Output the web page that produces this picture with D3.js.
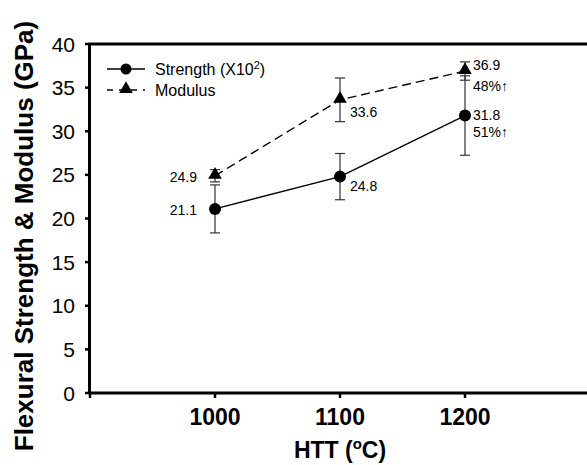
<!DOCTYPE html>
<html>
<head>
<meta charset="utf-8">
<script src="https://cdn.jsdelivr.net/npm/d3@7"></script>
<style>
body { margin: 0; background: #fff; }
text { font-family: "Liberation Sans", Arial, sans-serif; }
</style>
</head>
<body>
<div id="chart"></div>
<script>
var htt = [1000, 1100, 1200];
var strength = [21.1, 24.8, 31.8];
var strengthErr = [2.75, 2.65, 4.55];
var modulus = [24.9, 33.6, 36.9];
var modulusErr = [0.7, 2.5, 1.05];
var yTicks = [0, 5, 10, 15, 20, 25, 30, 35, 40];
var xTicks = [900, 1000, 1100, 1200, 1300];
var xLabels = [1000, 1100, 1200];

var w = 587, h = 465;
var svg = d3.select("#chart").append("svg").attr("width", w).attr("height", h);

var x = d3.scaleLinear().domain([900, 1300]).range([90, 590]);
var y = d3.scaleLinear().domain([0, 40]).range([393, 44]);

// frame
svg.append("line").attr("x1", 88.5).attr("x2", 600).attr("y1", 44).attr("y2", 44).attr("stroke", "#000").attr("stroke-width", 3);
svg.append("line").attr("x1", 88.5).attr("x2", 600).attr("y1", 393).attr("y2", 393).attr("stroke", "#000").attr("stroke-width", 3);
svg.append("line").attr("x1", 89.5).attr("x2", 89.5).attr("y1", 43).attr("y2", 394).attr("stroke", "#000").attr("stroke-width", 3);

// y ticks
svg.selectAll(".yt").data(yTicks).enter().append("line").attr("class", "yt")
    .attr("x1", 85).attr("x2", 89).attr("y1", function (d) { return y(d); }).attr("y2", function (d) { return y(d); })
    .attr("stroke", "#000").attr("stroke-width", 2.5);
svg.selectAll(".yl").data(yTicks).enter().append("text").attr("class", "yl")
    .attr("x", 75).attr("y", function (d) { return y(d) + 7.5; }).attr("text-anchor", "end")
    .style("font-size", "21px").text(function (d) { return d; });

// x ticks
svg.selectAll(".xt").data(xTicks).enter().append("line").attr("class", "xt")
    .attr("x1", function (d) { return x(d); }).attr("x2", function (d) { return x(d); })
    .attr("y1", 393).attr("y2", 398).attr("stroke", "#000").attr("stroke-width", 2.5);
svg.selectAll(".xl").data(xLabels).enter().append("text").attr("class", "xl")
    .attr("x", function (d) { return x(d); }).attr("y", 425).attr("text-anchor", "middle")
    .style("font-size", "23px").style("font-weight", "bold").text(function (d) { return d; });

// axis titles
var xt = svg.append("text").attr("x", 340).attr("y", 458).attr("text-anchor", "middle")
    .style("font-size", "23px").style("font-weight", "bold");
xt.append("tspan").text("HTT (");
xt.append("tspan").attr("dy", -9).style("font-size", "15px").text("o");
xt.append("tspan").attr("dy", 9).text("C)");

svg.append("text").attr("transform", "translate(33,236) rotate(-90)").attr("text-anchor", "middle")
    .style("font-size", "26px").style("font-weight", "bold").text("Flexural Strength & Modulus (GPa)");

// error bars
function errBars(vals, errs, cls) {
    var g = svg.append("g");
    g.selectAll("." + cls).data(vals).enter().append("line")
        .attr("x1", function (d, i) { return x(htt[i]); }).attr("x2", function (d, i) { return x(htt[i]); })
        .attr("y1", function (d, i) { return y(d - errs[i]); }).attr("y2", function (d, i) { return y(d + errs[i]); })
        .attr("stroke", "#333").attr("stroke-width", 1.2);
    [-1, 1].forEach(function (s) {
        g.selectAll(".c" + cls + s).data(vals).enter().append("line")
            .attr("x1", function (d, i) { return x(htt[i]) - 5; }).attr("x2", function (d, i) { return x(htt[i]) + 5; })
            .attr("y1", function (d, i) { return y(d + s * errs[i]); }).attr("y2", function (d, i) { return y(d + s * errs[i]); })
            .attr("stroke", "#333").attr("stroke-width", 1.2);
    });
}
errBars(strength, strengthErr, "se");
errBars(modulus, modulusErr, "me");

// lines
var line = d3.line().x(function (d, i) { return x(htt[i]); }).y(function (d) { return y(d); });
svg.append("path").datum(strength).attr("d", line).attr("fill", "none").attr("stroke", "#000").attr("stroke-width", 1.4);
svg.append("path").datum(modulus).attr("d", line).attr("fill", "none").attr("stroke", "#000").attr("stroke-width", 1.4).attr("stroke-dasharray", "9,5");

// markers
svg.selectAll(".dot").data(strength).enter().append("circle").attr("class", "dot")
    .attr("cx", function (d, i) { return x(htt[i]); }).attr("cy", function (d) { return y(d); }).attr("r", 6).attr("fill", "#000");
var tri = d3.symbol().type(d3.symbolTriangle).size(80);
svg.selectAll(".tri").data(modulus).enter().append("path").attr("class", "tri")
    .attr("d", tri).attr("transform", function (d, i) { return "translate(" + x(htt[i]) + "," + (y(d) - 1) + ")"; }).attr("fill", "#000");

// value labels
var sLabelDx = [-18, 10, 8], sLabelDy = [6, 14, 4];
var mLabelDx = [-18, 10, 8], mLabelDy = [6, 17, -1];
svg.selectAll(".sl").data(strength).enter().append("text").attr("class", "sl")
    .attr("x", function (d, i) { return x(htt[i]) + sLabelDx[i]; }).attr("y", function (d) { return y(d); })
    .attr("dy", function (d, i) { return sLabelDy[i]; })
    .attr("text-anchor", function (d, i) { return i == 0 ? "end" : "start"; })
    .style("font-size", "14px").text(function (d) { return d.toFixed(1); });
svg.selectAll(".ml").data(modulus).enter().append("text").attr("class", "ml")
    .attr("x", function (d, i) { return x(htt[i]) + mLabelDx[i]; }).attr("y", function (d) { return y(d); })
    .attr("dy", function (d, i) { return mLabelDy[i]; })
    .attr("text-anchor", function (d, i) { return i == 0 ? "end" : "start"; })
    .style("font-size", "14px").text(function (d) { return d.toFixed(1); });

// percent increases
var pct = [Math.round((modulus[2] / modulus[0] - 1) * 100), Math.round((strength[2] / strength[0] - 1) * 100)];
svg.append("text").attr("x", x(1200) + 8).attr("y", y(modulus[2]) + 20).style("font-size", "14px").text(pct[0] + "%\u2191");
svg.append("text").attr("x", x(1200) + 8).attr("y", y(strength[2]) + 21).style("font-size", "14px").text(pct[1] + "%\u2191");

// legend
var leg = svg.append("g");
leg.append("line").attr("x1", 107).attr("x2", 145).attr("y1", 69).attr("y2", 69).attr("stroke", "#000").attr("stroke-width", 1.4);
leg.append("circle").attr("cx", 126).attr("cy", 69).attr("r", 5.5).attr("fill", "#000");
leg.append("line").attr("x1", 107).attr("x2", 145).attr("y1", 90).attr("y2", 90).attr("stroke", "#000").attr("stroke-width", 1.4).attr("stroke-dasharray", "6,6");
leg.append("path").attr("d", tri).attr("transform", "translate(126,89)").attr("fill", "#000");
var lt = leg.append("text").attr("x", 155).attr("y", 75).style("font-size", "16px");
lt.append("tspan").text("Strength (X10");
lt.append("tspan").attr("dy", -6).style("font-size", "11px").text("2");
lt.append("tspan").attr("dy", 6).text(")");
leg.append("text").attr("x", 155).attr("y", 96).style("font-size", "16px").text("Modulus");
</script>
</body>
</html>
